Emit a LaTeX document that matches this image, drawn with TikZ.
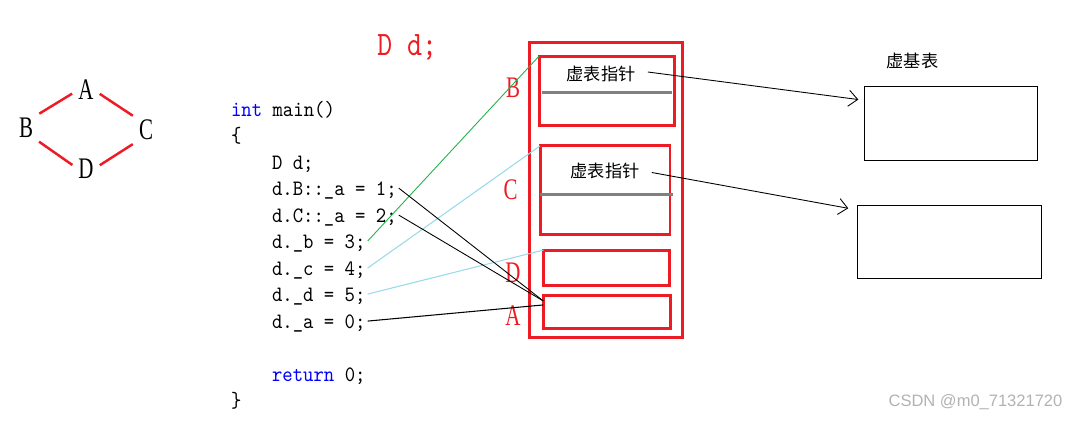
\documentclass[tikz,border=0pt]{standalone}
\usepackage{fontspec}
\usetikzlibrary{arrows.meta,calc}
\newfontfamily\codefont{lmmono10-regular.otf}[FakeStretch=0.9]
\newfontfamily\redmono{lmmono10-regular.otf}[FakeStretch=0.83]
\newfontfamily\letterfont[FakeStretch=0.7]{Liberation Serif}
\newfontfamily\cjkfont{Noto Sans CJK SC}
\newfontfamily\markfont{Liberation Sans}
\definecolor{pred}{RGB}{237,28,36}
\definecolor{pgreen}{RGB}{34,177,76}
\definecolor{pblue}{RGB}{153,217,234}
\definecolor{kw}{RGB}{0,0,255}
\tikzset{
	letter/.style={font=\letterfont\fontsize{17}{17}\selectfont, inner sep=0pt},
	code/.style={font=\codefont\fontsize{12.5}{13}\selectfont, anchor=base west, inner xsep=1pt, inner ysep=0pt, text height=9pt, text depth=0pt},
	redbox/.style={draw=pred, line width=1.7pt, inner sep=0pt, outer sep=0pt},
	tblbox/.style={draw, line width=0.6pt, inner sep=0pt, outer sep=0pt},
	cjk/.style={font=\cjkfont\fontsize{9.8}{10}\selectfont, inner sep=0pt},
	vptr/.style={-{Straight Barb[length=1.8mm,width=3.2mm]}, line width=0.5pt},
}
\begin{document}
\begin{tikzpicture}[x=0.02cm,y=-0.02cm]
\useasboundingbox (0,0) rectangle (1079,421);

\node [letter] (A) at (86,90) {A};
\node [letter] (B) at (26,127.5) {B};
\node [letter] (C) at (146,130) {C};
\node [letter] (D) at (86,169) {D};
\draw [pred, line width=1.4pt, shorten <=0.14cm, shorten >=0.14cm] (B.north east) -- (A.west);
\draw [pred, line width=1.4pt, shorten <=0.14cm, shorten >=0.14cm] (A.east) -- (C.north west);
\draw [pred, line width=1.4pt, shorten <=0.14cm, shorten >=0.14cm] (B.south east) -- (D.west);
\draw [pred, line width=1.4pt, shorten <=0.14cm, shorten >=0.14cm] (D.east) -- (C.south west);

\node [anchor=base west, inner sep=0pt, pred, font=\redmono\fontsize{19.5}{20}\selectfont] (title) at (377,56) {D d;};

\foreach \n/\x/\y/\txt in {cmain/229/117/{\textcolor{kw}{int} main()}, copen/229/143/{\{}, cdecl/270/170/{D d;}, cba/270/196/{d.B::\_a = 1;}, cca/270/223/{d.C::\_a = 2;}, cb/270/249/{d.\_b = 3;}, cc/270/276/{d.\_c = 4;}, cd/270/302/{d.\_d = 5;}, ca/270/329/{d.\_a = 0;}, cret/270/382/{\textcolor{kw}{return} 0;}, cclose/229/408/{\}}} {
	\node [code] (\n) at (\x,\y) {\txt};
}

\node [redbox, minimum width=3.08cm, minimum height=5.89cm] (obj) at (606,190) {};
\node [redbox, minimum width=2.71cm, minimum height=1.39cm] (Bbox) at (606.8,90.8) {};
\node [redbox, minimum width=2.60cm, minimum height=1.77cm] (Cbox) at (605,190.2) {};
\node [redbox, minimum width=2.53cm, minimum height=0.71cm] (Dbox) at (606.7,267.8) {};
\node [redbox, minimum width=2.55cm, minimum height=0.65cm] (Abox) at (607,312.2) {};
\draw [gray, line width=1.5pt] (541.7,92.3) -- (672,92.3);
\draw [gray, line width=1.5pt] (540,194.3) -- (672.7,194.3);
\node [cjk] (p1) at (601,74) {虚表指针};
\node [cjk] (p2) at (605,170.5) {虚表指针};

\node [letter, pred] (lb) at (513,88) {B};
\node [letter, pred] (lc) at (510.5,190) {C};
\node [letter, pred] (ld) at (513,273) {D};
\node [letter, pred] (la) at (513,316) {A};

\node [tblbox, minimum width=3.46cm, minimum height=1.47cm] (vt1) at (950.8,123.3) {};
\node [tblbox, minimum width=3.69cm, minimum height=1.46cm] (vt2) at (949.5,241.8) {};
\node [cjk] (vbt) at (912.5,61) {虚基表};

\coordinate (ahit) at ($(Abox.north west)+(0,5)$);
\draw [pgreen, line width=0.5pt] (cb.east) -- (Bbox.north west);
\draw [pblue, line width=0.6pt] (cc.east) -- (Cbox.north west);
\draw [pblue, line width=0.6pt] (cd.east) -- (Dbox.north west);
\draw [line width=0.5pt] (cba.east) -- (ahit);
\draw [line width=0.5pt] (cca.east) -- (ahit);
\draw [line width=0.6pt] (ca.east) -- ($(ahit)+(0,4)$);

\draw [vptr] ($(p1.east)+(12,-2)$) -- ($(vt1.north west)+(-6,13)$);
\draw [vptr] ($(p2.east)+(12,2)$) -- ($(vt2.north west)+(-9,3)$);

\node [font=\markfont\fontsize{9.4}{10}\selectfont, gray!60, inner sep=0pt] (mark) at (975.5,402.5) {CSDN @m0\_71321720};

\end{tikzpicture}
\end{document}
